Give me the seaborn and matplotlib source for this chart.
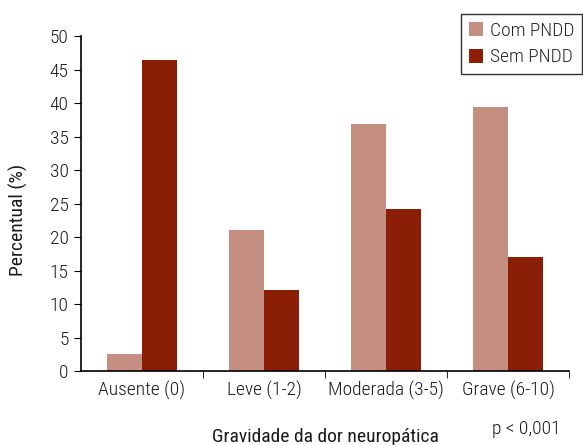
import pandas as pd
import seaborn as sns
import matplotlib.pyplot as plt
from matplotlib.ticker import FixedLocator

categories = ["Ausente (0)", "Leve (1-2)", "Moderada (3-5)", "Grave (6-10)"]
com_pndd = [2.5, 21.0, 36.9, 39.4]
sem_pndd = [46.5, 12.1, 24.2, 17.0]
groups = ["Com PNDD", "Sem PNDD"]

df = pd.DataFrame({
    "categoria": categories * 2,
    "valor": com_pndd + sem_pndd,
    "grupo": [groups[0]] * 4 + [groups[1]] * 4,
})

sns.set_style("white")
plt.rcParams["font.family"] = ["Roboto Condensed", "DejaVu Sans"]
plt.rcParams["font.weight"] = "light"
fs = 14

fig = plt.figure(figsize=(5.83, 4.45), dpi=100)
ax = fig.add_axes([0.139, 0.166, 0.837, 0.753])
sns.barplot(data=df, x="categoria", y="valor", hue="grupo",
            palette=["#C48F80", "#8B1F05"], width=0.57, saturation=1,
            linewidth=0, ax=ax)

ax.set_ylim(0, 50)
ax.set_xlim(-0.5, 3.5)
ax.set_yticks(range(0, 51, 5))
ax.tick_params(axis="y", labelsize=fs, length=5, direction="out", left=True,
               color="black", labelcolor="#1a1a1a", pad=4)
ax.tick_params(axis="x", which="major", length=0, labelsize=fs, pad=7,
               labelcolor="#1a1a1a")
ax.xaxis.set_minor_locator(FixedLocator([0.5, 1.5, 2.5, 3.5]))
ax.tick_params(axis="x", which="minor", length=5, bottom=True, color="black")
for s in ["top", "right"]:
    ax.spines[s].set_visible(False)
for s in ["left", "bottom"]:
    ax.spines[s].set_color("black")
    ax.spines[s].set_linewidth(1.2)

ax.set_ylabel("Percentual (%)", fontsize=fs, color="#1a1a1a")
ax.yaxis.set_label_coords(-0.108, 0.45)
ax.set_xlabel("Gravidade da dor neuropática", fontsize=fs, color="#1a1a1a",
              labelpad=20)

leg = ax.legend(loc="upper right", bbox_to_anchor=(1.027, 1.066), fontsize=fs,
                borderaxespad=0, frameon=True, fancybox=False, edgecolor="black",
                handlelength=0.75, handleheight=0.75, handletextpad=0.35,
                borderpad=0.4, labelspacing=0.45)
leg.get_frame().set_linewidth(1.0)

fig.text(0.962, 0.025, "p < 0,001", ha="right", fontsize=fs, color="#1a1a1a")

fig.savefig("out.png", dpi=100)
